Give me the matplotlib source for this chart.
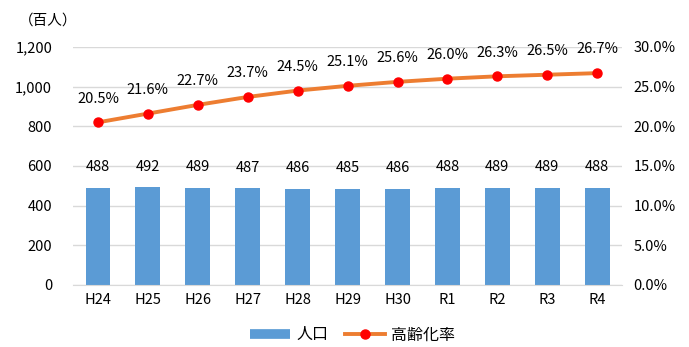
import matplotlib.pyplot as plt
import numpy as np
from matplotlib.lines import Line2D

plt.rcParams['font.family'] = ['Noto Sans CJK JP', 'DejaVu Sans']

years = ["H24", "H25", "H26", "H27", "H28", "H29", "H30", "R1", "R2", "R3", "R4"]
population = [488, 492, 489, 487, 486, 485, 486, 488, 489, 489, 488]
aging_rate = [20.5, 21.6, 22.7, 23.7, 24.5, 25.1, 25.6, 26.0, 26.3, 26.5, 26.7]

fig = plt.figure(figsize=(6.89, 3.47), dpi=100)
ax = fig.add_axes([0.106, 0.1787, 0.797, 0.686])
x = np.arange(len(years))

ax.bar(x, population, width=0.5, color="#5B9BD5", zorder=2)
ax.set_ylim(0, 1200)
ax.set_yticks(range(0, 1201, 200))
ax.set_yticklabels([f"{v:,}" for v in range(0, 1201, 200)])
ax.set_xlim(-0.5, len(years) - 0.5)
ax.set_xticks(x)
ax.set_xticklabels(years)
ax.grid(axis="y", color="#D9D9D9", lw=1, zorder=0)
for s in ["top", "right", "left"]:
    ax.spines[s].set_visible(False)
ax.spines["bottom"].set_color("#D9D9D9")
ax.tick_params(length=0, labelsize=10.5, colors="#000000")
ax.tick_params(axis="y", pad=15)
ax.tick_params(axis="x", pad=6)
for xi, v in zip(x, population):
    ax.text(xi, v + 105, str(v), ha="center", va="center", fontsize=10.5)

ax2 = ax.twinx()
ax2.plot(x, aging_rate, color="#ED7D31", lw=2.8, marker="o",
         markersize=6.5, markerfacecolor="#FF0000", markeredgecolor="#FF0000",
         zorder=3)
ax2.set_ylim(0, 30)
ax2.set_yticks(np.arange(0, 31, 5))
ax2.set_yticklabels([f"{v:.1f}%" for v in np.arange(0, 31, 5)])
for s in ["top", "right", "left", "bottom"]:
    ax2.spines[s].set_visible(False)
ax2.tick_params(length=0, labelsize=10.5, pad=8)
for xi, v in zip(x, aging_rate):
    ax2.text(xi, v + 3.0, f"{v:.1f}%", ha="center", va="center", fontsize=10.5)

fig.text(0.070, 0.942, "（百人）", ha="center", va="center", fontsize=10.5)

handles = [
    Line2D([], [], color="#5B9BD5", lw=7, solid_capstyle="butt"),
    Line2D([], [], color="#ED7D31", lw=2.8, marker="o", markersize=6.5,
           markerfacecolor="#FF0000", markeredgecolor="#FF0000"),
]
fig.legend(handles, ["人口", "高齢化率"], loc="center", bbox_to_anchor=(0.512, 0.035),
           ncol=2, frameon=False, fontsize=11.5, handlelength=2.5,
           handletextpad=0.4, columnspacing=1.0)

fig.savefig("out.png", dpi=100)
